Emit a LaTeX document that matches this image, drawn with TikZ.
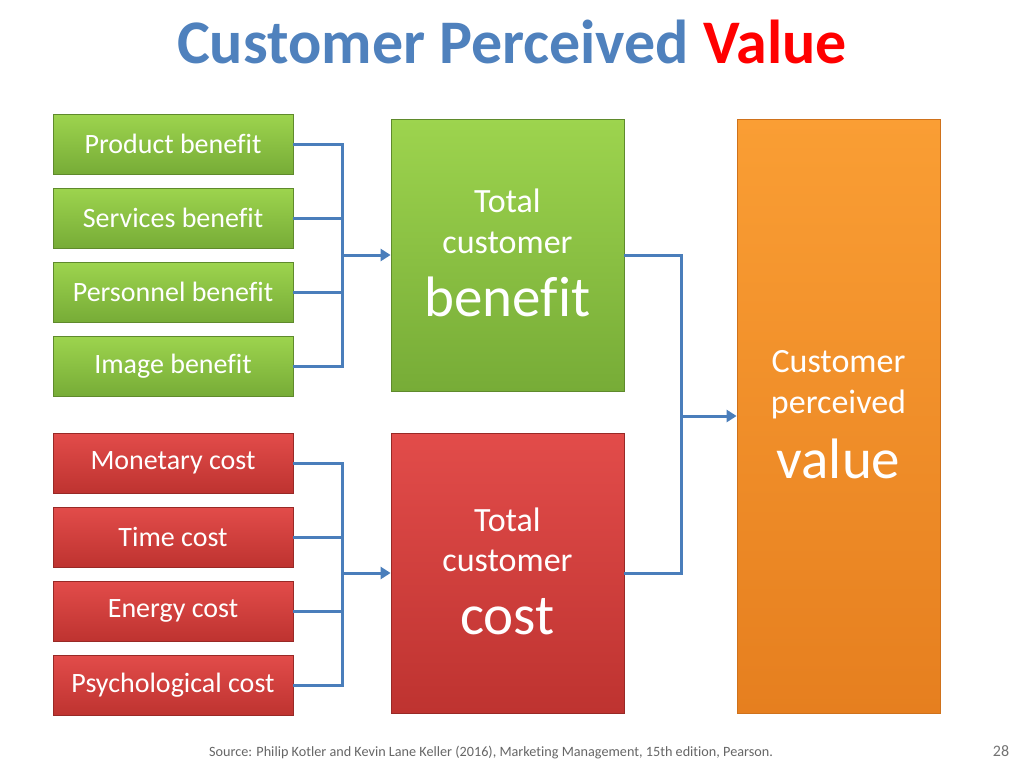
\documentclass[tikz,border=0pt]{standalone}
\usepackage{fontspec}
\setmainfont[Ligatures={NoCommon}]{Carlito}
\usetikzlibrary{arrows.meta}
\definecolor{tblue}{HTML}{4F81BD}
\definecolor{lnk}{HTML}{4A7EBB}
\definecolor{gT}{HTML}{9DD44E}\definecolor{gB}{HTML}{77AC37}
\definecolor{rT}{HTML}{E24C4A}\definecolor{rB}{HTML}{BE3330}
\definecolor{oT}{HTML}{FA9E34}\definecolor{oB}{HTML}{E67F1F}
\tikzset{
 gbox/.style={draw=gB!80!black,line width=0.8pt,top color=gT,bottom color=gB,text=white,align=center,inner sep=0pt},
 rbox/.style={draw=rB!80!black,line width=0.8pt,top color=rT,bottom color=rB,text=white,align=center,inner sep=0pt},
 obox/.style={draw=oB!90!black,line width=0.8pt,top color=oT,bottom color=oB,text=white,align=center,inner sep=0pt},
 small/.style={minimum width=240pt,minimum height=60pt,font=\fontsize{28}{32}\selectfont},
 mid/.style={text=white,font=\fontsize{34}{40}\selectfont},
 big/.style={text=white,font=\fontsize{57}{64}\selectfont},
 lnkline/.style={draw=lnk,line width=3pt},
 arr/.style={lnkline,-{Triangle[length=10pt,width=12pt]}}
}
\begin{document}
\begin{tikzpicture}[x=1pt,y=-1pt]
\useasboundingbox (0,0) rectangle (1024,768);
\fill[white] (0,0) rectangle (1024,768);
\node[font=\fontsize{62}{68}\selectfont\bfseries] (title) at (512,42) {\textcolor{tblue}{Customer Perceived} \textcolor{red}{Value}};
% left boxes
\node[gbox,small] (b1) at (173,144) {Product benefit};
\node[gbox,small] (b2) at (173,218) {Services benefit};
\node[gbox,small] (b3) at (173,292) {Personnel benefit};
\node[gbox,small] (b4) at (173,366) {Image benefit};
\node[rbox,small] (c1) at (173,463) {Monetary cost};
\node[rbox,small] (c2) at (173,537) {Time cost};
\node[rbox,small] (c3) at (173,611) {Energy cost};
\node[rbox,small] (c4) at (173,685) {Psychological cost};
% middle
\node[gbox,minimum width=233pt,minimum height=272pt] (tb) at (507.5,255) {};
\node[mid] (tb1) at (507.5,201) {Total};
\node[mid] (tb2) at (507.5,243) {customer};
\node[big] (tb3) at (507.5,297) {benefit};
\node[rbox,minimum width=233pt,minimum height=280pt] (tc) at (507.5,573) {};
\node[mid] (tc1) at (507.5,520) {Total};
\node[mid] (tc2) at (507.5,561) {customer};
\node[big] (tc3) at (507.5,617) {cost};
\node[obox,minimum width=203pt,minimum height=594pt] (cv) at (838.5,416) {};
\node[mid] (cv1) at (838.5,362) {Customer};
\node[mid] (cv2) at (838.5,404) {perceived};
\node[big] (cv3) at (838.5,459) {value};
% connectors
\coordinate (jb) at (342,255);
\coordinate (jc) at (342,573);
\foreach \n in {b1,b2,b3,b4}{\draw[lnkline] (\n.east) -- (\n.east -| jb) -- (jb);}
\foreach \n in {c1,c2,c3,c4}{\draw[lnkline] (\n.east) -- (\n.east -| jc) -- (jc);}
\draw[arr] (jb) -- (tb.west);
\draw[arr] (jc) -- (tc.west);
\coordinate (jv) at (681,416);
\draw[lnkline] (tb.east) -- (tb.east -| jv) -- (jv);
\draw[lnkline] (tc.east) -- (tc.east -| jv) -- (jv);
\draw[arr] (jv) -- (jv -| cv.west);
\node[text=black!60,font=\fontsize{14.2}{16}\selectfont] (src) at (491,753) {Source: Philip Kotler and Kevin Lane Keller (2016), Marketing Management, 15th edition, Pearson.};
\node[text=black!55,font=\fontsize{16}{18}\selectfont] (pg) at (1001,751) {28};
\end{tikzpicture}
\end{document}
